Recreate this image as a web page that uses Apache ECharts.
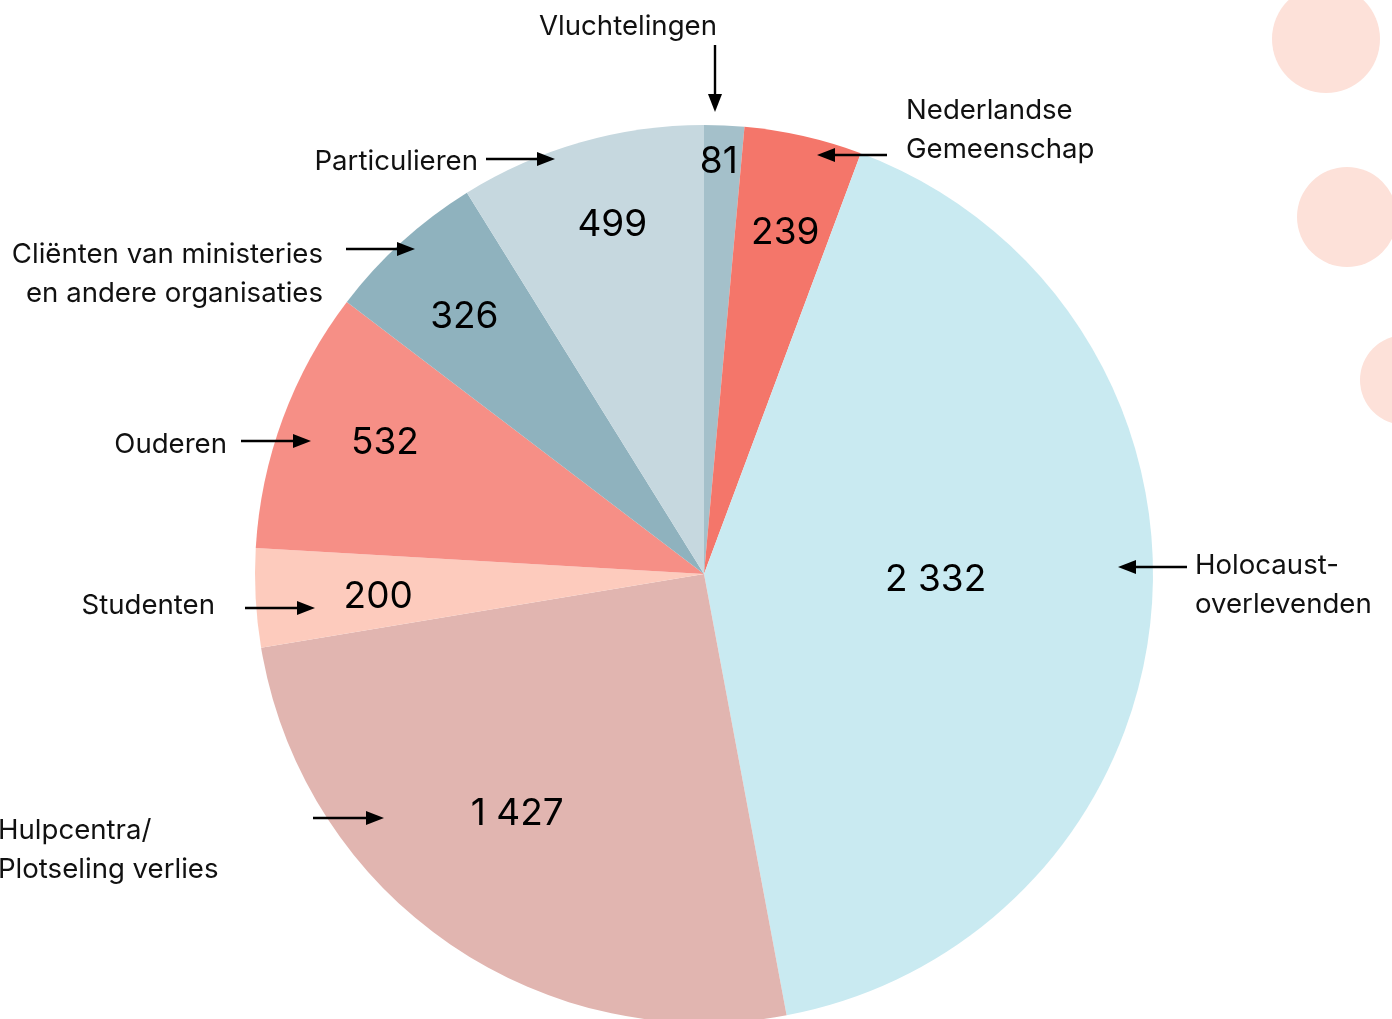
<!DOCTYPE html>
<html>
<head>
<meta charset="utf-8">
<script src="https://cdn.jsdelivr.net/npm/echarts@6/dist/echarts.min.js"></script>
<style>
  html, body { margin: 0; padding: 0; background: #fff; }
  #chart { width: 1392px; height: 1019px; }
</style>
</head>
<body>
<div id="chart"></div>
<script>
// clockwise from 12 o'clock
const categories = [
  'Vluchtelingen',
  'Nederlandse\nGemeenschap',
  'Holocaust-\noverlevenden',
  'Hulpcentra/\nPlotseling verlies',
  'Studenten',
  'Ouderen',
  'Cliënten van ministeries\nen andere organisaties',
  'Particulieren'
];
const values = [81, 239, 2332, 1427, 200, 532, 326, 499];
const colors = ['#a4c0ca', '#f4766a', '#c9eaf1', '#e1b5b0', '#fdcbbd', '#f68f86', '#8fb2be', '#c6d8df'];

// where the value sits inside each slice, as share of the radius, plus a small nudge
const labelRadius = [0.92, 0.78, 0.52, 0.68, 0.72, 0.77, 0.79, 0.81];
const labelNudge = [[-4, 4], [3, 3], [-4, -14], [-10, -13], [0, 5], [8, -10], [1, 8], [9, 3]];

// outer name labels: [textX, textY(first line centre), align, arrow x1, y1, x2, y2]
const nameLayout = [
  [628, 27, 'center', 715, 45, 715, 112],
  [906, 111, 'left', 887, 155, 817, 155],
  [1195, 566, 'left', 1187, 567, 1118, 567],
  [-2, 831, 'left', 313, 818, 384, 818],
  [215, 606, 'right', 245, 608, 315, 608],
  [227, 445, 'right', 241, 441, 311, 441],
  [323, 255, 'right', 346, 249, 415, 249],
  [478, 162, 'right', 486, 159, 555, 159]
];

const CX = 704, CY = 574, R = 449;
const FONT = 'Inter, "Noto Sans", sans-serif';

function fmt(v) {
  return String(v).replace(/\B(?=(\d{3})+(?!\d))/g, ' ');
}

function arrow(x1, y1, x2, y2) {
  const dx = x2 - x1, dy = y2 - y1;
  const len = Math.sqrt(dx * dx + dy * dy);
  const ux = dx / len, uy = dy / len;
  const hl = 18, hw = 7;
  const bx = x2 - ux * hl, by = y2 - uy * hl;
  return [
    {
      type: 'line', silent: true, z: 100,
      shape: { x1: x1, y1: y1, x2: bx + ux * 2, y2: by + uy * 2 },
      style: { stroke: '#000', lineWidth: 2.4 }
    },
    {
      type: 'polygon', silent: true, z: 100,
      shape: { points: [[x2, y2], [bx - uy * hw, by + ux * hw], [bx + uy * hw, by - ux * hw]] },
      style: { fill: '#000' }
    }
  ];
}

const graphics = [
  { type: 'circle', silent: true, z: -10, shape: { cx: 1326, cy: 39, r: 54 }, style: { fill: '#fde1d9' } },
  { type: 'circle', silent: true, z: -10, shape: { cx: 1347, cy: 217, r: 50 }, style: { fill: '#fde1d9' } },
  { type: 'circle', silent: true, z: -10, shape: { cx: 1405, cy: 380, r: 45 }, style: { fill: '#fde1d9' } }
];
categories.forEach(function (name, i) {
  const l = nameLayout[i];
  const lh = 39;
  graphics.push({
    type: 'text', silent: true, z: 100,
    style: {
      text: name, x: l[0], y: l[1] - lh / 2,
      align: l[2], verticalAlign: 'top',
      fontSize: 27.6, fontFamily: FONT, lineHeight: lh, fill: '#111'
    }
  });
  arrow(l[3], l[4], l[5], l[6]).forEach(function (g) { graphics.push(g); });
});

const series = [{
  type: 'pie',
  center: [CX, CY],
  radius: [0, R],
  startAngle: 90,
  clockwise: true,
  silent: true,
  label: { show: false },
  labelLine: { show: false },
  data: values.map(function (v, i) {
    return { name: categories[i], value: v, itemStyle: { color: colors[i] } };
  })
}];

// invisible pies only used to place each value label at its own radius
labelRadius.forEach(function (f, k) {
  series.push({
    type: 'pie',
    center: [CX, CY],
    radius: [0, 2 * f * R],
    startAngle: 90,
    clockwise: true,
    silent: true,
    avoidLabelOverlap: false,
    z: 5,
    itemStyle: { color: 'rgba(0,0,0,0)' },
    labelLine: { show: false },
    labelLayout: function () {
      return { dx: labelNudge[k][0], dy: labelNudge[k][1] };
    },
    data: values.map(function (v, i) {
      return {
        name: categories[i], value: v,
        label: {
          show: i === k, position: 'inside',
          formatter: fmt(v), color: '#000',
          fontSize: 37, fontFamily: FONT
        }
      };
    })
  });
});

const chart = echarts.init(document.getElementById('chart'));
chart.setOption({
  backgroundColor: '#fff',
  animation: false,
  graphic: graphics,
  series: series
});
window.addEventListener('resize', function () { chart.resize(); });
</script>
</body>
</html>
